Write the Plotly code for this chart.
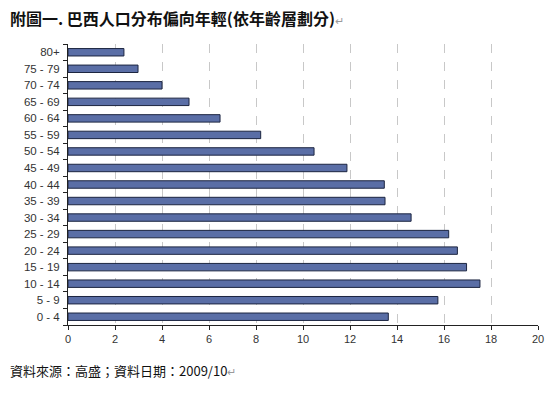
import plotly.graph_objects as go

categories = ["0 - 4", "5 - 9", "10 - 14", "15 - 19", "20 - 24", "25 - 29", "30 - 34",
              "35 - 39", "40 - 44", "45 - 49", "50 - 54", "55 - 59", "60 - 64",
              "65 - 69", "70 - 74", "75 - 79", "80+"]
values = [13.63, 15.74, 17.53, 16.96, 16.57, 16.2, 14.6,
          13.49, 13.46, 11.87, 10.47, 8.2, 6.47,
          5.15, 4.0, 2.98, 2.38]
x_ticks = [0, 2, 4, 6, 8, 10, 12, 14, 16, 18, 20]

title_text = "附圖一. 巴西人口分布偏向年輕(依年齡層劃分)"
source_text = "資料來源：高盛；資料日期：2009/10"

fig = go.Figure(go.Bar(
    x=values, y=categories, orientation="h",
    marker=dict(color="#5a6ea6", line=dict(color="#1c2540", width=1)),
    width=0.45,
))

fig.update_layout(
    width=554, height=393,
    margin=dict(l=68, r=16, t=44, b=68),
    paper_bgcolor="white", plot_bgcolor="white",
    showlegend=False,
    font=dict(family="Liberation Sans, Arial, sans-serif", size=11, color="#333333"),
)
fig.update_xaxes(
    range=[0, 20], tickvals=x_ticks, showgrid=True,
    gridcolor="#c8c8c8", griddash="dash", gridwidth=1,
    showline=True, linecolor="#222222", linewidth=1,
    ticks="outside", ticklen=4, tickcolor="#222222",
    zeroline=False, tickfont=dict(size=11, color="#333333"),
    automargin=False,
)
fig.update_yaxes(
    categoryorder="array", categoryarray=categories,
    showline=True, linecolor="#222222", linewidth=1,
    ticks="outside", ticklen=4, tickcolor="#222222", tickson="boundaries",
    ticklabelstandoff=5,
    showgrid=False, tickfont=dict(size=11.5, color="#333333"),
    range=[-0.5, 16.5], automargin=False,
)

fig.add_annotation(
    x=0, y=1, xref="paper", yref="paper",
    xshift=-60, yshift=26, xanchor="left", yanchor="middle",
    text="<b>" + title_text + "</b><span style='color:#9a9a9a;font-size:11px'>↵</span>",
    showarrow=False,
    font=dict(family="Noto Sans CJK TC", size=16, color="#111111"),
)
fig.add_annotation(
    x=0, y=0, xref="paper", yref="paper",
    xshift=-60, yshift=-45, xanchor="left", yanchor="middle",
    text=source_text + "<span style='color:#9a9a9a;font-size:11px'>↵</span>",
    showarrow=False,
    font=dict(family="Noto Sans CJK TC", size=13, color="#111111"),
)

fig.write_html("out.html", config={"displayModeBar": False},
               post_script="document.body.style.margin='0';")
